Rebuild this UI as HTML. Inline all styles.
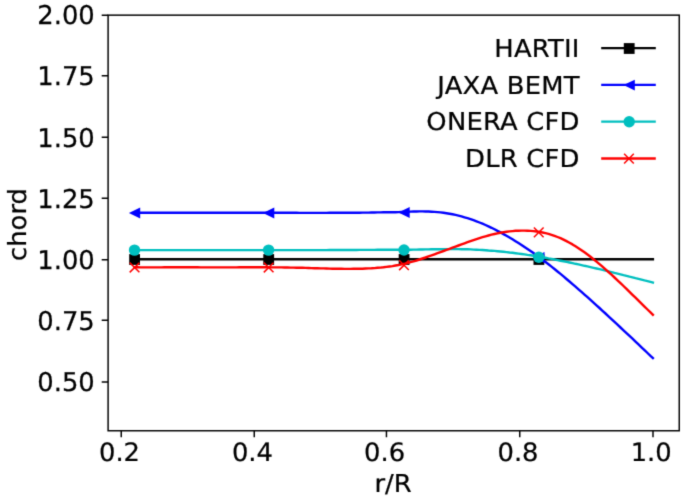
<!DOCTYPE html>
<html><head><meta charset="utf-8"><title>chord</title>
<style>html,body{margin:0;padding:0;background:#fff}svg{display:block}text{text-rendering:geometricPrecision;font-family:"DejaVu Sans","Liberation Sans",sans-serif;font-size:25.8px;fill:#000}</style></head>
<body>
<svg width="685" height="500" viewBox="0 0 685 500">
<defs><filter id="soft" color-interpolation-filters="sRGB" x="0" y="0" width="685" height="500" filterUnits="userSpaceOnUse"><feConvolveMatrix order="3" kernelMatrix="0.0169 0.0962 0.0169 0.0962 0.5476 0.0962 0.0169 0.0962 0.0169" divisor="1" edgeMode="duplicate" preserveAlpha="false"/></filter></defs>
<g filter="url(#soft)">
<rect width="685" height="500" fill="#fff"/>
<path d="M121.25 430.75v6.4M254.25 430.75v6.4M386.45 430.75v6.4M519.75 430.75v6.4M653.00 430.75v6.4M108.10 15.15h-6.4M108.10 75.70h-6.4M108.10 137.25h-6.4M108.10 198.30h-6.4M108.10 259.85h-6.4M108.10 320.30h-6.4M108.10 382.05h-6.4" stroke="#000" stroke-width="1.46" fill="none"/>
<g fill="none" stroke-width="2.40" stroke-linecap="square" stroke-linejoin="round">
<path d="M134.5 259.2H652.9" stroke="#000"/>
</g>
<g fill="#000"><rect x="129.2" y="254.1" width="10.8" height="10.8"/><rect x="263.3" y="254.1" width="10.8" height="10.8"/><rect x="398.7" y="254.1" width="10.8" height="10.8"/><rect x="533.5" y="254.1" width="10.8" height="10.8"/></g>
<polyline points="134.5,212.7 137.5,212.7 140.5,212.7 143.5,212.7 146.5,212.7 149.5,212.7 152.5,212.7 155.5,212.7 158.5,212.7 161.5,212.7 164.5,212.7 167.5,212.7 170.5,212.7 173.5,212.7 176.5,212.7 179.5,212.7 182.5,212.7 185.5,212.7 188.5,212.7 191.5,212.7 194.5,212.7 197.5,212.7 200.5,212.7 203.5,212.7 206.5,212.7 209.5,212.7 212.5,212.7 215.5,212.7 218.5,212.7 221.5,212.7 224.5,212.7 227.5,212.7 230.5,212.7 233.5,212.7 236.5,212.7 239.5,212.7 242.5,212.7 245.5,212.7 248.5,212.7 251.5,212.7 254.5,212.7 257.5,212.7 260.5,212.7 263.5,212.8 266.5,212.8 269.5,212.8 272.5,212.8 275.5,212.8 278.5,212.8 281.5,212.8 284.5,212.8 287.5,212.8 290.5,212.8 293.5,212.8 296.5,212.8 299.5,212.9 302.5,212.9 305.5,212.9 308.5,212.9 311.5,212.9 314.5,212.9 317.5,212.9 320.5,212.9 323.5,212.9 326.5,212.9 329.5,212.8 332.5,212.8 335.5,212.8 338.5,212.8 341.5,212.8 344.5,212.8 347.5,212.8 350.5,212.7 353.5,212.7 356.5,212.7 359.5,212.7 362.5,212.6 365.5,212.6 368.5,212.6 371.5,212.5 374.5,212.5 377.5,212.4 380.5,212.4 383.5,212.3 386.5,212.3 389.5,212.2 392.5,212.2 395.5,212.2 398.5,212.1 401.5,212.0 404.5,211.9 407.5,211.7 410.5,211.6 413.5,211.5 416.5,211.5 419.5,211.4 422.5,211.4 425.5,211.5 428.5,211.5 431.5,211.7 434.5,211.9 437.5,212.1 440.5,212.4 443.5,212.8 446.5,213.2 449.5,213.7 452.5,214.3 455.5,214.9 458.5,215.6 461.5,216.4 464.5,217.3 467.5,218.2 470.5,219.1 473.5,220.2 476.5,221.3 479.5,222.5 482.5,223.7 485.5,225.0 488.5,226.4 491.5,227.8 494.5,229.3 497.5,230.9 500.5,232.4 503.5,234.1 506.5,235.8 509.5,237.5 512.5,239.3 515.5,241.2 518.5,243.1 521.5,245.0 524.5,247.0 527.5,249.0 530.5,251.0 533.5,253.1 536.5,255.3 539.5,257.4 542.5,259.7 545.5,262.0 548.5,264.3 551.5,266.6 554.5,269.0 557.5,271.5 560.5,273.9 563.5,276.4 566.5,279.0 569.5,281.5 572.5,284.1 575.5,286.7 578.5,289.3 581.5,291.9 584.5,294.6 587.5,297.2 590.5,299.9 593.5,302.6 596.5,305.3 599.5,308.0 602.5,310.8 605.5,313.5 608.5,316.3 611.5,319.1 614.5,321.9 617.5,324.7 620.5,327.5 623.5,330.3 626.5,333.1 629.5,335.9 632.5,338.7 635.5,341.6 638.5,344.4 641.5,347.3 644.5,350.1 647.5,353.0 650.5,355.9 652.9,358.1" fill="none" stroke="#00f" stroke-width="2.40" stroke-linecap="square" stroke-linejoin="round"/>
<path d="M128.9 213.0L140.2 207.5V218.5ZM263.0 213.0L274.3 207.5V218.5ZM398.4 212.5L409.7 207.0V218.0ZM533.2 257.5L544.5 252.0V263.0Z" fill="#00f" />
<polyline points="134.5,250.1 137.5,250.1 140.5,250.1 143.5,250.1 146.5,250.1 149.5,250.1 152.5,250.1 155.5,250.1 158.5,250.1 161.5,250.1 164.5,250.1 167.5,250.1 170.5,250.1 173.5,250.1 176.5,250.1 179.5,250.1 182.5,250.1 185.5,250.1 188.5,250.1 191.5,250.1 194.5,250.1 197.5,250.1 200.5,250.1 203.5,250.1 206.5,250.1 209.5,250.1 212.5,250.1 215.5,250.1 218.5,250.1 221.5,250.1 224.5,250.1 227.5,250.1 230.5,250.1 233.5,250.1 236.5,250.1 239.5,250.1 242.5,250.1 245.5,250.1 248.5,250.1 251.5,250.1 254.5,250.1 257.5,250.1 260.5,250.1 263.5,250.1 266.5,250.1 269.5,250.1 272.5,250.1 275.5,250.1 278.5,250.1 281.5,250.1 284.5,250.1 287.5,250.1 290.5,250.1 293.5,250.1 296.5,250.1 299.5,250.1 302.5,250.1 305.5,250.1 308.5,250.1 311.5,250.1 314.5,250.1 317.5,250.1 320.5,250.1 323.5,250.1 326.5,250.1 329.5,250.0 332.5,250.0 335.5,250.0 338.5,250.0 341.5,250.0 344.5,250.0 347.5,250.0 350.5,250.0 353.5,250.0 356.5,250.0 359.5,249.9 362.5,249.9 365.5,249.9 368.5,249.9 371.5,249.9 374.5,249.9 377.5,249.8 380.5,249.8 383.5,249.8 386.5,249.8 389.5,249.8 392.5,249.7 395.5,249.7 398.5,249.7 401.5,249.7 404.5,249.7 407.5,249.7 410.5,249.7 413.5,249.6 416.5,249.6 419.5,249.5 422.5,249.5 425.5,249.4 428.5,249.4 431.5,249.3 434.5,249.3 437.5,249.2 440.5,249.2 443.5,249.1 446.5,249.1 449.5,249.1 452.5,249.1 455.5,249.1 458.5,249.1 461.5,249.2 464.5,249.2 467.5,249.3 470.5,249.4 473.5,249.6 476.5,249.7 479.5,249.9 482.5,250.0 485.5,250.2 488.5,250.5 491.5,250.7 494.5,250.9 497.5,251.2 500.5,251.5 503.5,251.8 506.5,252.1 509.5,252.5 512.5,252.8 515.5,253.2 518.5,253.6 521.5,254.0 524.5,254.4 527.5,254.9 530.5,255.3 533.5,255.8 536.5,256.3 539.5,256.8 542.5,257.3 545.5,257.8 548.5,258.4 551.5,258.9 554.5,259.5 557.5,260.1 560.5,260.7 563.5,261.3 566.5,261.9 569.5,262.5 572.5,263.1 575.5,263.8 578.5,264.4 581.5,265.1 584.5,265.8 587.5,266.4 590.5,267.1 593.5,267.8 596.5,268.5 599.5,269.2 602.5,269.9 605.5,270.7 608.5,271.4 611.5,272.1 614.5,272.9 617.5,273.6 620.5,274.3 623.5,275.1 626.5,275.8 629.5,276.6 632.5,277.3 635.5,278.1 638.5,278.8 641.5,279.6 644.5,280.4 647.5,281.1 650.5,281.9 652.9,282.5" fill="none" stroke="#00bfbf" stroke-width="2.40" stroke-linecap="square" stroke-linejoin="round"/>
<g fill="#00bfbf"><circle cx="134.5" cy="250.1" r="5.7"/><circle cx="268.6" cy="250.1" r="5.7"/><circle cx="404.0" cy="250.0" r="5.7"/><circle cx="538.8" cy="257.3" r="5.7"/></g>
<polyline points="134.5,267.3 137.5,267.3 140.5,267.4 143.5,267.4 146.5,267.4 149.5,267.4 152.5,267.4 155.5,267.4 158.5,267.4 161.5,267.4 164.5,267.3 167.5,267.3 170.5,267.3 173.5,267.3 176.5,267.3 179.5,267.3 182.5,267.3 185.5,267.3 188.5,267.3 191.5,267.3 194.5,267.3 197.5,267.3 200.5,267.4 203.5,267.4 206.5,267.4 209.5,267.4 212.5,267.4 215.5,267.4 218.5,267.4 221.5,267.4 224.5,267.4 227.5,267.4 230.5,267.4 233.5,267.4 236.5,267.4 239.5,267.3 242.5,267.3 245.5,267.3 248.5,267.3 251.5,267.3 254.5,267.3 257.5,267.3 260.5,267.3 263.5,267.3 266.5,267.3 269.5,267.4 272.5,267.4 275.5,267.4 278.5,267.4 281.5,267.4 284.5,267.5 287.5,267.5 290.5,267.6 293.5,267.6 296.5,267.7 299.5,267.8 302.5,267.8 305.5,267.9 308.5,268.0 311.5,268.1 314.5,268.2 317.5,268.3 320.5,268.4 323.5,268.4 326.5,268.5 329.5,268.6 332.5,268.7 335.5,268.7 338.5,268.8 341.5,268.8 344.5,268.9 347.5,268.9 350.5,268.9 353.5,268.8 356.5,268.8 359.5,268.7 362.5,268.7 365.5,268.5 368.5,268.4 371.5,268.3 374.5,268.1 377.5,267.8 380.5,267.6 383.5,267.3 386.5,266.9 389.5,266.5 392.5,266.1 395.5,265.5 398.5,265.0 401.5,264.4 404.5,263.8 407.5,263.0 410.5,262.2 413.5,261.4 416.5,260.5 419.5,259.5 422.5,258.5 425.5,257.5 428.5,256.4 431.5,255.4 434.5,254.3 437.5,253.2 440.5,252.1 443.5,251.0 446.5,249.9 449.5,248.8 452.5,247.7 455.5,246.6 458.5,245.5 461.5,244.4 464.5,243.3 467.5,242.2 470.5,241.1 473.5,240.1 476.5,239.1 479.5,238.1 482.5,237.2 485.5,236.3 488.5,235.5 491.5,234.7 494.5,234.0 497.5,233.3 500.5,232.7 503.5,232.2 506.5,231.7 509.5,231.4 512.5,231.1 515.5,230.8 518.5,230.7 521.5,230.6 524.5,230.6 527.5,230.7 530.5,230.9 533.5,231.1 536.5,231.5 539.5,231.9 542.5,232.5 545.5,233.2 548.5,233.9 551.5,234.8 554.5,235.8 557.5,237.0 560.5,238.2 563.5,239.6 566.5,241.1 569.5,242.7 572.5,244.4 575.5,246.3 578.5,248.2 581.5,250.2 584.5,252.3 587.5,254.5 590.5,256.8 593.5,259.2 596.5,261.6 599.5,264.1 602.5,266.7 605.5,269.3 608.5,272.0 611.5,274.7 614.5,277.5 617.5,280.3 620.5,283.1 623.5,286.0 626.5,288.9 629.5,291.8 632.5,294.8 635.5,297.7 638.5,300.7 641.5,303.6 644.5,306.6 647.5,309.5 650.5,312.4 652.9,314.8" fill="none" stroke="#f00" stroke-width="2.40" stroke-linecap="square" stroke-linejoin="round"/>
<path d="M129.7 262.6l9.7 9.7M129.7 272.4l9.7 -9.7M263.8 262.6l9.7 9.7M263.8 272.4l9.7 -9.7M399.1 260.3l9.7 9.7M399.1 270.1l9.7 -9.7M533.9 227.5l9.7 9.7M533.9 237.2l9.7 -9.7" fill="none" stroke="#f00" stroke-width="1.5"/>
<rect x="108.10" y="15.15" width="571.15" height="415.60" fill="none" stroke="#000" stroke-width="1.46"/>
<g stroke="#000" stroke-width="0.25">
<text transform="translate(94.8 24.3) scale(1 1.000)" text-anchor="end">2.00</text>
<text transform="translate(94.8 85.4) scale(1 1.000)" text-anchor="end">1.75</text>
<text transform="translate(94.8 146.5) scale(1 1.000)" text-anchor="end">1.50</text>
<text transform="translate(94.8 207.7) scale(1 1.000)" text-anchor="end">1.25</text>
<text transform="translate(94.8 268.9) scale(1 1.000)" text-anchor="end">1.00</text>
<text transform="translate(94.8 330.0) scale(1 1.000)" text-anchor="end">0.75</text>
<text transform="translate(94.8 391.2) scale(1 1.000)" text-anchor="end">0.50</text>
<text transform="translate(119.5 461.0) scale(1 0.980)" text-anchor="middle">0.2</text>
<text transform="translate(252.4 461.0) scale(1 0.980)" text-anchor="middle">0.4</text>
<text transform="translate(384.6 461.0) scale(1 0.980)" text-anchor="middle">0.6</text>
<text transform="translate(518.0 461.0) scale(1 0.980)" text-anchor="middle">0.8</text>
<text transform="translate(651.2 461.0) scale(1 0.980)" text-anchor="middle">1.0</text>
<text transform="translate(393.0 491.8) scale(1 0.955)" text-anchor="middle">r/R</text>
<text transform="translate(26 224.5) rotate(-90) scale(1 0.97)" text-anchor="middle">chord</text>
<text letter-spacing="0.22" transform="translate(579.7 56.9) scale(1 0.955)" text-anchor="end">HARTII</text>
<text letter-spacing="0.22" transform="translate(579.7 93.7) scale(1 0.955)" text-anchor="end">JAXA BEMT</text>
<text letter-spacing="0.22" transform="translate(579.7 130.3) scale(1 0.955)" text-anchor="end">ONERA CFD</text>
<text letter-spacing="0.22" transform="translate(579.7 167.3) scale(1 0.955)" text-anchor="end">DLR CFD</text>
</g>
<path d="M602.4 48.10H654.6" stroke="#000" stroke-width="2.40" stroke-linecap="square" fill="none"/>
<path d="M602.4 84.90H654.6" stroke="#00f" stroke-width="2.40" stroke-linecap="square" fill="none"/>
<path d="M602.4 121.60H654.6" stroke="#00bfbf" stroke-width="2.40" stroke-linecap="square" fill="none"/>
<path d="M602.4 158.45H654.6" stroke="#f00" stroke-width="2.40" stroke-linecap="square" fill="none"/>
<rect x="623.8" y="43.1" width="10.8" height="10.8" fill="#000"/>
<path d="M623.5 85.1L634.8 79.8V90.4Z" fill="#00f"/>
<circle cx="629.2" cy="121.8" r="5.7" fill="#00bfbf"/>
<path d="M624.1 153.8l9.7 9.7M624.1 163.5l9.7 -9.7" fill="none" stroke="#f00" stroke-width="1.5"/>
</g>
</svg>
</body></html>
